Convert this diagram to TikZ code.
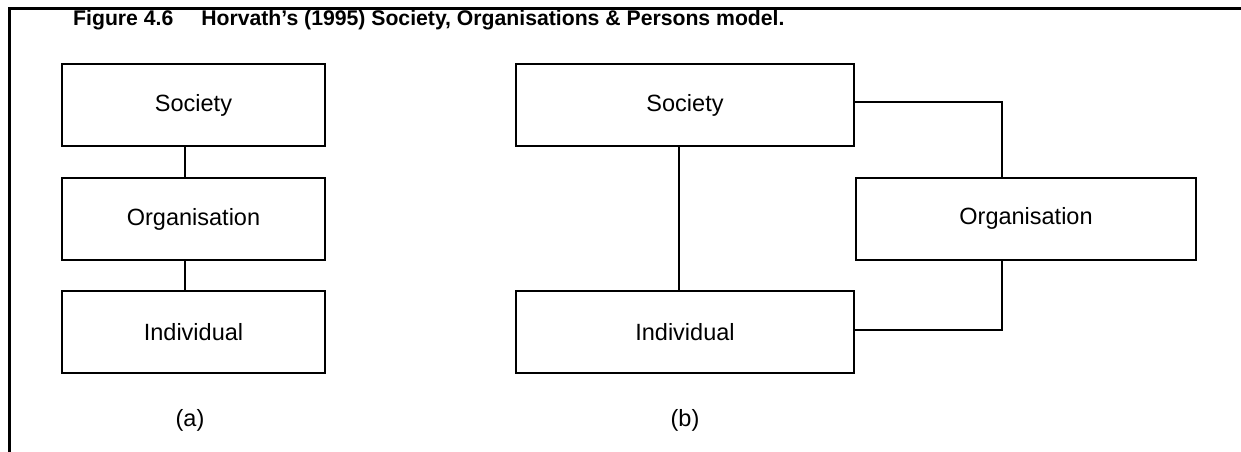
\documentclass[tikz,border=0pt]{standalone}
\usepackage{fontspec}
\setmainfont{Liberation Sans}
\begin{document}
\begin{tikzpicture}[x=1pt,y=-1pt,
    caixa/.style={draw, line width=2pt, minimum height=82pt, inner sep=0pt, font=\fontsize{23.5}{28}\selectfont},
    liga/.style={line width=1.3pt},
    rotulo/.style={inner sep=0pt, font=\fontsize{23.5}{28}\selectfont}]
    \useasboundingbox (0,0) rectangle (1241,452);
    % moldura e titulo
    \draw[line width=2.5pt] (9.5,452) -- (9.5,8.5) -- (1241,8.5);
    \node[anchor=base west, inner sep=0pt, font=\fontsize{21.2}{25}\bfseries] (titulo) at (73,26) {Figure 4.6\hspace{28pt}Horvath’s (1995) Society, Organisations \& Persons model.};
    % modelo (a)
    \node[caixa, minimum width=263pt] at (193.5,105) (soca) {Society};
    \node[caixa, minimum width=263pt] at (193.5,219) (orga) {Organisation};
    \node[caixa, minimum width=263pt] at (193.5,332) (inda) {Individual};
    \draw[liga] ([xshift=-8.5pt]soca.south) -- ([xshift=-8.5pt]orga.north);
    \draw[liga] ([xshift=-8.5pt]orga.south) -- ([xshift=-8.5pt]inda.north);
    \node[rotulo] at (190,420) (rota) {(a)};
    % modelo (b)
    \node[caixa, minimum width=338pt] at (685,105) (socb) {Society};
    \node[caixa, minimum width=340pt] at (1026,218.5) (orgb) {Organisation};
    \node[caixa, minimum width=338pt] at (685,332) (indb) {Individual};
    \draw[liga] ([xshift=-6pt]socb.south) -- ([xshift=-6pt]indb.north);
    \draw[liga] ([yshift=3pt]socb.east) -| ([xshift=-24pt]orgb.north);
    \draw[liga] ([yshift=2pt]indb.east) -| ([xshift=-24pt]orgb.south);
    \node[rotulo] at (685,420) (rotb) {(b)};
\end{tikzpicture}
\end{document}
